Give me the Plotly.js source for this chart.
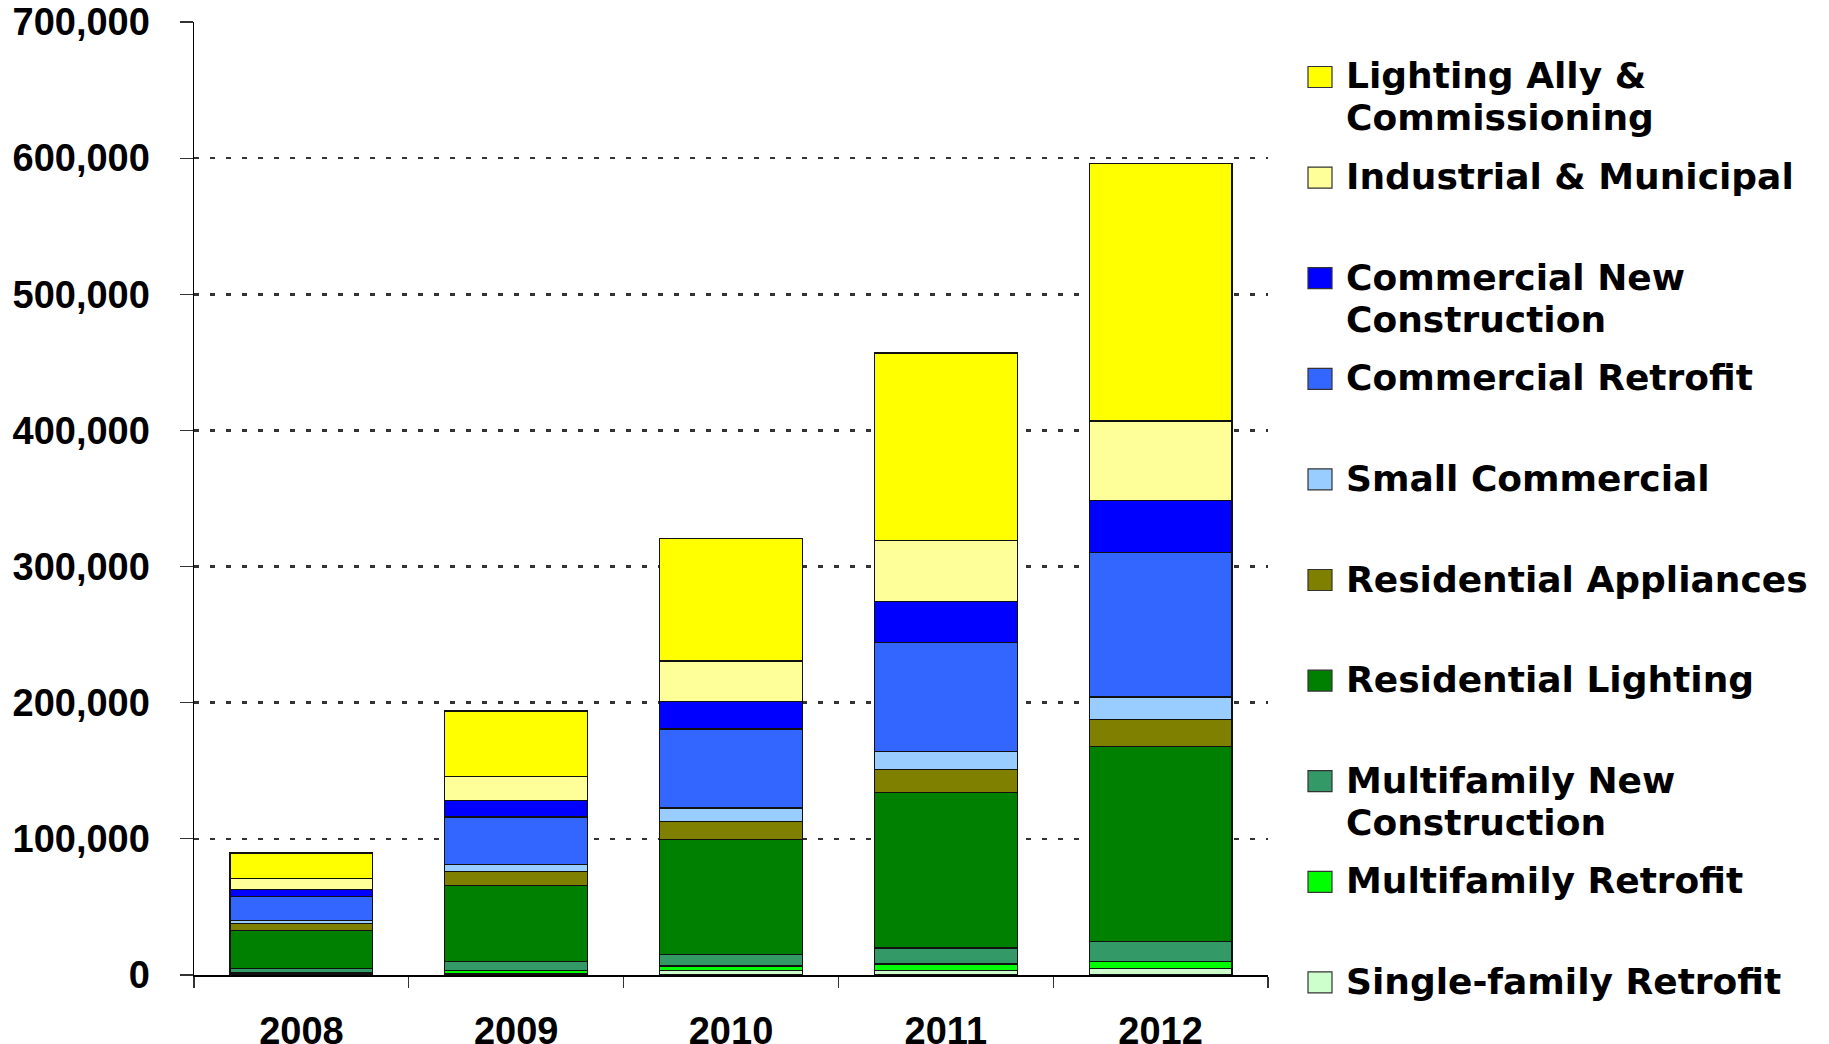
<!DOCTYPE html>
<html>
<head>
<meta charset="utf-8">
<script src="https://cdn.plot.ly/plotly-3.0.1.min.js"></script>
<style>html,body{margin:0;padding:0;background:#fff;}#chart{width:1829px;height:1044px;}</style>
</head>
<body>
<div id="chart"></div>
<script>
// ---- data ----
const years = ['2008', '2009', '2010', '2011', '2012'];
const singleFamilyRetrofit = [1200, 1000, 3200, 3200, 4900];
const multifamilyRetrofit = [300, 2200, 3400, 4900, 4900];
const multifamilyNewConstruction = [3400, 6600, 8300, 11700, 14900];
const residentialLighting = [27900, 56200, 84600, 114500, 143100];
const residentialAppliances = [5100, 10200, 13200, 16600, 19800];
const smallCommercial = [1900, 4900, 9900, 13400, 16600];
const commercialRetrofit = [17900, 34900, 58200, 79800, 106100];
const commercialNewConstruction = [5300, 12100, 20000, 30100, 38400];
const industrialMunicipal = [8100, 17800, 29900, 44700, 58300];
const lightingAllyCommissioning = [18500, 48100, 89800, 137900, 189200];

const yTickVals = [0, 100000, 200000, 300000, 400000, 500000, 600000, 700000];

// series in stacking order (bottom first)
const seriesNames = ['Single-family Retrofit', 'Multifamily Retrofit', 'Multifamily New<br>Construction',
  'Residential Lighting', 'Residential Appliances', 'Small Commercial', 'Commercial Retrofit',
  'Commercial New<br>Construction', 'Industrial & Municipal', 'Lighting Ally &<br>Commissioning'];
const seriesValues = [singleFamilyRetrofit, multifamilyRetrofit, multifamilyNewConstruction,
  residentialLighting, residentialAppliances, smallCommercial, commercialRetrofit,
  commercialNewConstruction, industrialMunicipal, lightingAllyCommissioning];
const seriesColors = ['#CCFFCC', '#00FF00', '#339966', '#008000', '#808000', '#99CCFF', '#3366FF',
  '#0000FF', '#FFFF99', '#FFFF00'];

// ---- layout geometry (pixels) ----
const W = 1829, H = 1044;
const plotL = 194, plotR = 1268, plotT = 22, plotB = 975;
const px2x = p => (p - plotL) / (plotR - plotL);
const px2y = p => (plotB - p) / (plotB - plotT);

const traces = seriesNames.map((n, i) => ({
  type: 'bar',
  name: n.replace('<br>', ' '),
  x: years,
  y: seriesValues[i],
  marker: {color: seriesColors[i], line: {color: '#111', width: 1.3}},
  showlegend: false,
  hoverinfo: 'x+y+name'
}));

// manual legend (top to bottom = reverse stacking order)
const shapes = [];
const annotations = [];
const legendFont = {family: 'DejaVu Sans', size: 36, color: '#000'};
const legTop = 77, legStep = 100.6, symX0 = 1308, symX1 = 1332, symH = 21, textX = 1344, lineGap = 42;
for (let k = 0; k < seriesNames.length; k++) {
  const i = seriesNames.length - 1 - k;
  const cy = legTop + k * legStep;
  shapes.push({type: 'rect', xref: 'paper', yref: 'paper',
    x0: px2x(symX0), x1: px2x(symX1), y0: px2y(cy - symH / 2), y1: px2y(cy + symH / 2),
    fillcolor: seriesColors[i], line: {color: '#333', width: 1.2}});
  seriesNames[i].split('<br>').forEach((line, j) => {
    annotations.push({xref: 'paper', yref: 'paper', x: px2x(textX), y: px2y(cy - 1 + j * lineGap),
      xanchor: 'left', yanchor: 'middle', showarrow: false, text: '<b>' + line + '</b>', font: legendFont});
  });
}

const layout = {
  width: W, height: H,
  margin: {l: plotL, r: W - plotR, t: plotT, b: H - plotB, pad: 0},
  paper_bgcolor: '#fff', plot_bgcolor: '#fff',
  barmode: 'stack', bargap: 0.335,
  showlegend: false,
  xaxis: {
    type: 'category', categoryorder: 'array', categoryarray: years,
    showline: true, linecolor: '#000', linewidth: 1.5,
    ticks: 'outside', tickson: 'boundaries', ticklen: 11, tickcolor: '#333', tickwidth: 1.2,
    tickfont: {family: 'Liberation Sans', size: 38, color: '#000', weight: 'bold'},
    ticklabelstandoff: 22,
    showgrid: false, zeroline: false
  },
  yaxis: {
    range: [0, 700000], tickvals: yTickVals, tickformat: ',d',
    showline: true, linecolor: '#000', linewidth: 1.5,
    ticks: 'outside', ticklen: 13, tickcolor: '#333', tickwidth: 1.2,
    tickfont: {family: 'Liberation Sans', size: 38, color: '#000', weight: 'bold'},
    ticklabelstandoff: 22,
    showgrid: true, gridcolor: '#333', gridwidth: 2.5, griddash: '5px,11px',
    zeroline: false
  },
  shapes: shapes,
  annotations: annotations
};

Plotly.newPlot('chart', traces, layout, {displayModeBar: false, staticPlot: true});
</script>
</body>
</html>
